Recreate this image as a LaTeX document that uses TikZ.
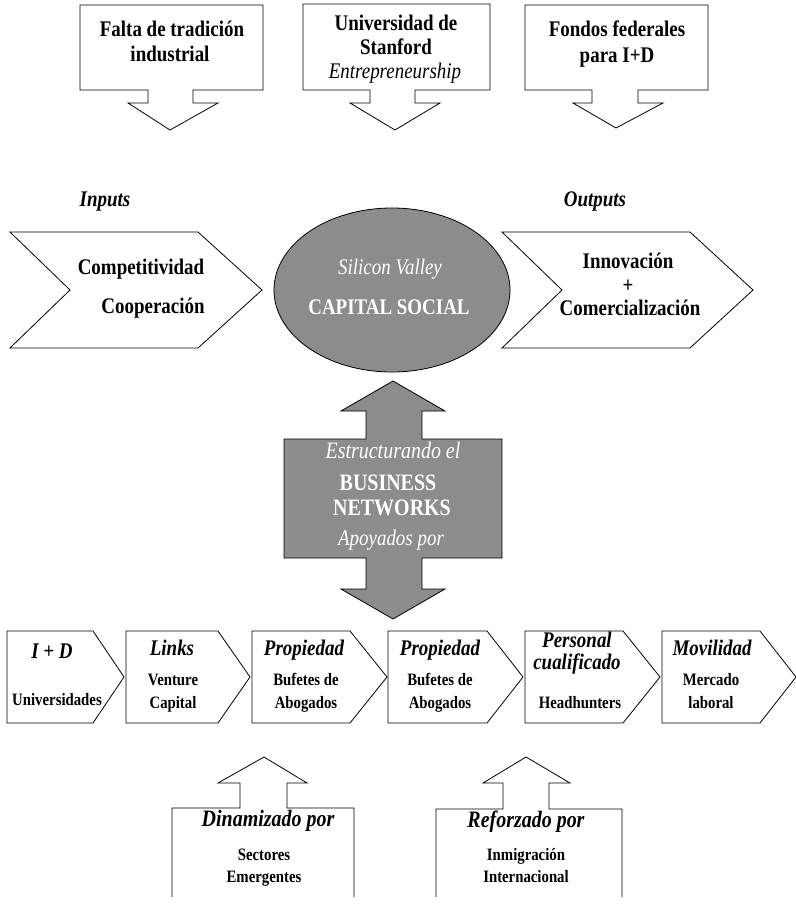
\documentclass[tikz,border=0pt]{standalone}
\usepackage{fontspec}
\setmainfont{Liberation Serif}[FakeStretch=0.85]
\definecolor{grayfill}{RGB}{140,140,140}
\begin{document}
\begin{tikzpicture}[x=1pt,y=-1pt,
  shp/.style={draw=black,line width=0.8pt,fill=white,line join=miter},
  gshp/.style={draw=black,line width=0.8pt,fill=grayfill,line join=miter},
  opn/.style={draw=black,line width=0.8pt,line join=miter},
  lbl/.style={inner sep=0pt,text height=0.66em,text depth=0pt},
  bigb/.style={lbl,font=\fontsize{22.3}{25}\selectfont\bfseries},
  bigi/.style={lbl,font=\fontsize{22.3}{25}\selectfont\itshape},
  bigbi/.style={lbl,font=\fontsize{22.3}{25}\selectfont\bfseries\itshape},
  medi/.style={lbl,font=\fontsize{23.5}{26}\selectfont\itshape},
  medbi/.style={lbl,font=\fontsize{23.5}{26}\selectfont\bfseries\itshape},
  medb/.style={lbl,font=\fontsize{23.5}{26}\selectfont\bfseries},
  smallb/.style={lbl,font=\fontsize{17.4}{20}\selectfont\bfseries},
  wht/.style={text=white}
]
\fill[white] (0,0) rectangle (796,906);
\path[use as bounding box] (0,0) rectangle (796,906);

% ---------- top callouts ----------
\path[shp] (80,5) -- (263,5) -- (263,90) -- (193,90) -- (193,103) -- (218,103)
  -- (170,130) -- (128,103) -- (148,103) -- (148,90) -- (80,90) -- cycle;
\path[shp] (303,4) -- (490,4) -- (490,90) -- (415,90) -- (415,103) -- (440,103)
  -- (395,130) -- (350,103) -- (370,103) -- (370,90) -- (303,90) -- cycle;
\path[shp] (525,5) -- (708,5) -- (708,90) -- (638,90) -- (638,103) -- (663,103)
  -- (616,128) -- (573,103) -- (592,103) -- (592,90) -- (525,90) -- cycle;

\node[bigb] (falta1) at (172,33) {Falta de tradición};
\node[bigb] (falta2) at (170,58) {industrial};
\node[bigb] (univ1) at (396,27) {Universidad de};
\node[bigb] (univ2) at (396,51) {Stanford};
\node[bigi] (univ3) at (395,75) {Entrepreneurship};
\node[bigb] (fond1) at (617,33) {Fondos federales};
\node[bigb] (fond2) at (617,59) {para I+D};

% ---------- middle row ----------
\node[bigbi] (inputs) at (105,203) {Inputs};
\node[bigbi] (outputs) at (595,203) {Outputs};

\path[shp] (10,232) -- (198,232) -- (262,290) -- (198,348) -- (10,348) -- (70,290) -- cycle;
\path[shp] (502,232) -- (690,232) -- (753,290) -- (690,348) -- (502,348) -- (562,290) -- cycle;
\path[gshp] (392,290) ellipse [x radius=118, y radius=82];

\node[bigb] (comp) at (141,271) {Competitividad};
\node[bigb] (coop) at (153,310) {Cooperación};
\node[bigb] (innov) at (628,265) {Innovación};
\node[bigb] (plus) at (628,289) {+};
\node[bigb] (comer) at (630,312) {Comercialización};
\node[bigi,wht] (silicon) at (390,271) {Silicon Valley};
\node[bigb,wht] (capital) at (389,311) {CAPITAL SOCIAL};

% ---------- double arrow ----------
\path[gshp] (393,381) -- (445,411) -- (422,411) -- (422,439) -- (502,439) -- (502,558)
  -- (422,558) -- (422,589) -- (445,589) -- (393,619) -- (341,589) -- (366,589)
  -- (366,558) -- (284,558) -- (284,439) -- (366,439) -- (366,411) -- (341,411) -- cycle;
\node[medi,wht] (estr) at (393,455) {Estructurando el};
\node[medb,wht] (busi) at (388,487) {BUSINESS};
\node[medb,wht] (netw) at (392,512) {NETWORKS};
\node[bigi,wht] (apoy) at (391,542) {Apoyados por};

% ---------- bottom row ----------
\foreach \l/\s/\t in {7/93/124, 126/218/250, 252/350/387, 388/487/523, 525/623/660, 662/760/796}{
  \path[shp] (\l,631) -- (\s,631) -- (\t,677) -- (\s,723) -- (\l,723) -- cycle;
}
\node[bigbi] (id) at (52,655) {I + D};
\node[smallb] (univs) at (57,702) {Universidades};
\node[bigbi] (links) at (172,652) {Links};
\node[smallb] (vent1) at (173,682) {Venture};
\node[smallb] (vent2) at (173,705) {Capital};
\node[bigbi] (prop1) at (304,652) {Propiedad};
\node[smallb] (buf1a) at (306,682) {Bufetes de};
\node[smallb] (buf1b) at (306,705) {Abogados};
\node[bigbi] (prop2) at (440,652) {Propiedad};
\node[smallb] (buf2a) at (440,682) {Bufetes de};
\node[smallb] (buf2b) at (440,705) {Abogados};
\node[bigbi] (pers1) at (577,644) {Personal};
\node[bigbi] (pers2) at (577,666) {cualificado};
\node[smallb] (head) at (580,705) {Headhunters};
\node[bigbi] (movil) at (712,652) {Movilidad};
\node[smallb] (merc1) at (711,682) {Mercado};
\node[smallb] (merc2) at (711,705) {laboral};

% ---------- bottom callouts ----------
\path[opn] (172,897) -- (172,808) -- (240,808) -- (240,783) -- (218,783) -- (264,757)
  -- (307,783) -- (287,783) -- (287,808) -- (354,808) -- (354,897);
\path[opn] (436,897) -- (436,809) -- (503,809) -- (503,783) -- (483,783) -- (526,757)
  -- (570,783) -- (549,783) -- (549,809) -- (622,809) -- (622,897);

\node[medbi] (dina) at (268,823) {Dinamizado por};
\node[smallb] (sect1) at (264,857) {Sectores};
\node[smallb] (sect2) at (264,879) {Emergentes};
\node[medbi] (refo) at (526,824) {Reforzado por};
\node[smallb] (inm1) at (526,857) {Inmigración};
\node[smallb] (inm2) at (526,879) {Internacional};
\end{tikzpicture}
\end{document}
